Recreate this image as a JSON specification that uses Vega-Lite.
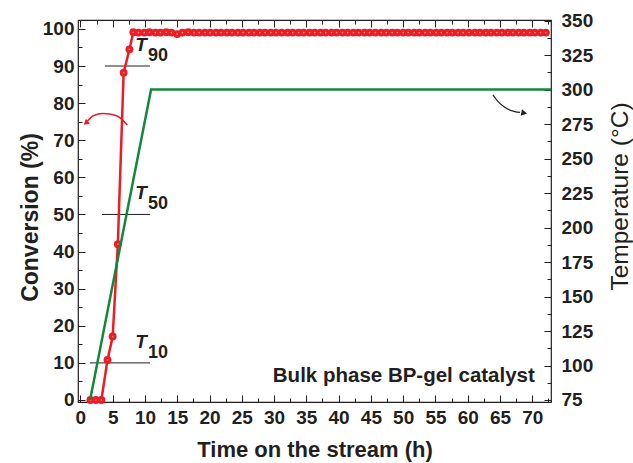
{
  "$schema": "https://vega.github.io/schema/vega-lite/v6.json",
  "width": 473,
  "height": 382,
  "autosize": "none",
  "padding": {"left": 78, "top": 20, "right": 82, "bottom": 61},
  "background": "white",
  "config": {
    "view": {"stroke": "#231f20", "strokeWidth": 1.2},
    "axis": {
      "grid": false,
      "labelFont": "Liberation Sans",
      "titleFont": "Liberation Sans",
      "labelFontWeight": "bold",
      "labelFontSize": 19,
      "labelColor": "#231f20",
      "titleColor": "#231f20",
      "domainColor": "#231f20",
      "tickColor": "#231f20",
      "tickWidth": 1,
      "domain": false
    },
    "text": {"font": "Liberation Sans", "color": "#231f20"}
  },
  "datasets": {
    "conversion": [
      {"t": 1.55, "c": 0}, {"t": 2.4, "c": 0}, {"t": 3.25, "c": 0},
      {"t": 4.2, "c": 10.8}, {"t": 5.0, "c": 17.1}, {"t": 5.8, "c": 42},
      {"t": 6.7, "c": 88.2}, {"t": 7.6, "c": 94.5},
      {"t": 8.2, "c": 99.1}, {"t": 9.0, "c": 99.0}, {"t": 9.9, "c": 99.0}, {"t": 10.7, "c": 99.1},
      {"t": 11.6, "c": 99.0}, {"t": 12.4, "c": 99.0}, {"t": 13.3, "c": 99.1}, {"t": 14.1, "c": 99.0},
      {"t": 15.0, "c": 98.6}, {"t": 15.8, "c": 99.0}, {"t": 16.7, "c": 99.1}, {"t": 17.6, "c": 99.0},
      {"t": 18.4, "c": 99.0}, {"t": 19.3, "c": 99.0}, {"t": 20.1, "c": 99.0}, {"t": 21.0, "c": 99.0},
      {"t": 21.8, "c": 99.0}, {"t": 22.7, "c": 99.0}, {"t": 23.5, "c": 99.0}, {"t": 24.4, "c": 99.0},
      {"t": 25.2, "c": 99.0}, {"t": 26.1, "c": 99.0}, {"t": 26.9, "c": 99.0}, {"t": 27.8, "c": 99.0},
      {"t": 28.6, "c": 99.0}, {"t": 29.5, "c": 99.0}, {"t": 30.3, "c": 99.0}, {"t": 31.2, "c": 99.0},
      {"t": 32.1, "c": 99.0}, {"t": 32.9, "c": 99.0}, {"t": 33.8, "c": 99.0}, {"t": 34.6, "c": 99.0},
      {"t": 35.5, "c": 99.0}, {"t": 36.3, "c": 99.0}, {"t": 37.2, "c": 99.0}, {"t": 38.0, "c": 99.0},
      {"t": 38.9, "c": 99.0}, {"t": 39.7, "c": 99.0}, {"t": 40.6, "c": 99.0}, {"t": 41.4, "c": 99.0},
      {"t": 42.3, "c": 99.0}, {"t": 43.1, "c": 99.0}, {"t": 44.0, "c": 99.0}, {"t": 44.8, "c": 99.0},
      {"t": 45.7, "c": 99.0}, {"t": 46.6, "c": 99.0}, {"t": 47.4, "c": 99.0}, {"t": 48.3, "c": 99.0},
      {"t": 49.1, "c": 99.0}, {"t": 50.0, "c": 99.0}, {"t": 50.8, "c": 99.0}, {"t": 51.7, "c": 99.0},
      {"t": 52.5, "c": 99.0}, {"t": 53.4, "c": 99.0}, {"t": 54.2, "c": 99.0}, {"t": 55.1, "c": 99.0},
      {"t": 55.9, "c": 99.0}, {"t": 56.8, "c": 99.0}, {"t": 57.6, "c": 99.0}, {"t": 58.5, "c": 99.0},
      {"t": 59.3, "c": 99.0}, {"t": 60.2, "c": 99.0}, {"t": 61.1, "c": 99.0}, {"t": 61.9, "c": 99.0},
      {"t": 62.8, "c": 99.0}, {"t": 63.6, "c": 99.0}, {"t": 64.5, "c": 99.0}, {"t": 65.3, "c": 99.0},
      {"t": 66.2, "c": 99.0}, {"t": 67.0, "c": 99.0}, {"t": 67.9, "c": 99.0}, {"t": 68.7, "c": 99.0},
      {"t": 69.6, "c": 99.0}, {"t": 70.4, "c": 99.0}, {"t": 71.3, "c": 99.0}, {"t": 72.1, "c": 99.0}
    ],
    "temperature": [
      {"t": 1.5, "temp": 75},
      {"t": 10.95, "temp": 300},
      {"t": 72.9, "temp": 300}
    ],
    "levels": [
      {"t": 10.8, "t2": 3.8, "c": 90, "sub": "90"},
      {"t": 10.8, "t2": 3.35, "c": 50, "sub": "50"},
      {"t": 10.8, "t2": 1.45, "c": 10, "sub": "10"}
    ],
    "arrows": [
      {"arrow": "left", "k": 0, "t": 7.28, "c": 74.1},
      {"arrow": "left", "k": 1, "t": 5.6, "c": 76.6},
      {"arrow": "left", "k": 2, "t": 3.5, "c": 77.2},
      {"arrow": "left", "k": 3, "t": 2.0, "c": 76.6},
      {"arrow": "left", "k": 4, "t": 1.1, "c": 75.2},
      {"arrow": "right", "k": 0, "t": 63.9, "c": 82.2},
      {"arrow": "right", "k": 1, "t": 64.7, "c": 80.4},
      {"arrow": "right", "k": 2, "t": 65.8, "c": 78.8},
      {"arrow": "right", "k": 3, "t": 67.3, "c": 77.7},
      {"arrow": "right", "k": 4, "t": 68.1, "c": 77.5}
    ],
    "heads": [
      {"arrow": "left", "t": 0.95, "c": 74.8},
      {"arrow": "right", "t": 68.6, "c": 77.4}
    ],
    "caption": [
      {"t": 70.4, "c": 4.9, "label": "Bulk phase BP-gel catalyst"}
    ]
  },
  "resolve": {
    "scale": {"y": "independent"},
    "axis": {"x": "independent", "y": "independent"}
  },
  "layer": [
    {
      "encoding": {
        "x": {
          "field": "t",
          "type": "quantitative",
          "scale": {"domain": [-0.37, 72.9], "nice": false, "zero": false},
          "axis": {
            "orient": "bottom",
            "title": "Time on the stream (h)",
            "titleFontSize": 22,
            "titleFontWeight": "bold",
            "titlePadding": 9,
            "values": [0, 2.5, 5, 7.5, 10, 12.5, 15, 17.5, 20, 22.5, 25, 27.5, 30, 32.5, 35, 37.5, 40, 42.5, 45, 47.5, 50, 52.5, 55, 57.5, 60, 62.5, 65, 67.5, 70, 72.5],
            "labelExpr": "datum.value % 5 === 0 ? datum.label : ''",
            "tickSize": {"condition": {"test": "datum.value % 5 === 0", "value": -7}, "value": -4},
            "labelPadding": 13,
            "labelFlush": false,
            "labelOverlap": false
          }
        },
        "y": {
          "field": "c",
          "type": "quantitative",
          "scale": {"domain": [-0.54, 102.4], "nice": false, "zero": false},
          "axis": {
            "orient": "left",
            "title": "Conversion (%)",
            "titleFontSize": 23,
            "titleFontWeight": "bold",
            "titlePadding": 0,
            "titleY": 197,
            "values": [0, 5, 10, 15, 20, 25, 30, 35, 40, 45, 50, 55, 60, 65, 70, 75, 80, 85, 90, 95, 100],
            "labelExpr": "datum.value % 10 === 0 ? datum.label : ''",
            "tickSize": {"condition": {"test": "datum.value % 10 === 0", "value": -7}, "value": -4},
            "labelPadding": 11,
            "labelFlush": false,
            "labelOverlap": false
          }
        }
      },
      "layer": [
        {
          "data": {"name": "levels"},
          "mark": {"type": "rule", "color": "#231f20", "strokeWidth": 1},
          "encoding": {"x2": {"field": "t2"}}
        },
        {
          "data": {"name": "conversion"},
          "mark": {"type": "line", "color": "#ed1c24", "strokeWidth": 2.5}
        },
        {
          "data": {"name": "conversion"},
          "mark": {"type": "point", "shape": "circle", "filled": true, "color": "#ed1c24", "size": 62, "opacity": 1}
        },
        {
          "data": {"name": "conversion"},
          "mark": {"type": "point", "shape": "circle", "filled": true, "color": "#f79494", "size": 3, "opacity": 1}
        },
        {
          "data": {"name": "levels"},
          "mark": {"type": "text", "text": "T", "fontSize": 19, "fontStyle": "italic", "fontWeight": "bold", "align": "center", "baseline": "middle", "dx": -9, "dy": -21}
        },
        {
          "data": {"name": "levels"},
          "mark": {"type": "text", "fontSize": 18, "fontWeight": "bold", "align": "center", "baseline": "middle", "dx": 8, "dy": -10},
          "encoding": {"text": {"field": "sub"}}
        },
        {
          "data": {"name": "arrows"},
          "transform": [{"filter": "datum.arrow === 'left'"}],
          "mark": {"type": "line", "color": "#ed1c24", "strokeWidth": 1.5, "interpolate": "monotone"},
          "encoding": {"order": {"field": "k"}}
        },
        {
          "data": {"name": "arrows"},
          "transform": [{"filter": "datum.arrow === 'right'"}],
          "mark": {"type": "line", "color": "#231f20", "strokeWidth": 1.2, "interpolate": "monotone"},
          "encoding": {"order": {"field": "k"}}
        },
        {
          "data": {"name": "heads"},
          "transform": [{"filter": "datum.arrow === 'left'"}],
          "mark": {"type": "point", "shape": "triangle", "filled": true, "color": "#ed1c24", "size": 40, "angle": 230, "opacity": 1}
        },
        {
          "data": {"name": "heads"},
          "transform": [{"filter": "datum.arrow === 'right'"}],
          "mark": {"type": "point", "shape": "triangle", "filled": true, "color": "#231f20", "size": 45, "angle": 100, "opacity": 1}
        },
        {
          "data": {"name": "caption"},
          "mark": {"type": "text", "fontSize": 20.5, "fontWeight": "bold", "align": "right", "baseline": "alphabetic"},
          "encoding": {"text": {"field": "label"}}
        }
      ]
    },
    {
      "data": {"name": "temperature"},
      "mark": {"type": "line", "color": "#14873d", "strokeWidth": 2.5},
      "encoding": {
        "x": {
          "field": "t",
          "type": "quantitative",
          "scale": {"domain": [-0.37, 72.9], "nice": false, "zero": false},
          "axis": {
            "orient": "top",
            "title": null,
            "labels": false,
            "values": [0, 2.5, 5, 7.5, 10, 12.5, 15, 17.5, 20, 22.5, 25, 27.5, 30, 32.5, 35, 37.5, 40, 42.5, 45, 47.5, 50, 52.5, 55, 57.5, 60, 62.5, 65, 67.5, 70, 72.5],
            "tickSize": {"condition": {"test": "datum.value % 5 === 0", "value": -7}, "value": -4}
          }
        },
        "y": {
          "field": "temp",
          "type": "quantitative",
          "scale": {"domain": [73.55, 350.4], "nice": false, "zero": false},
          "axis": {
            "orient": "right",
            "title": "Temperature (°C)",
            "titleFontSize": 24.5,
            "titleFontWeight": "normal",
            "titleAngle": 270,
            "titleBaseline": "top",
            "titlePadding": 16,
            "titleY": 176,
            "values": [75, 87.5, 100, 112.5, 125, 137.5, 150, 162.5, 175, 187.5, 200, 212.5, 225, 237.5, 250, 262.5, 275, 287.5, 300, 312.5, 325, 337.5, 350],
            "labelExpr": "(datum.value - 75) % 25 === 0 ? datum.label : ''",
            "tickSize": {"condition": {"test": "(datum.value - 75) % 25 === 0", "value": -7}, "value": -4},
            "labelPadding": 17,
            "labelFlush": false,
            "labelOverlap": false
          }
        }
      }
    }
  ]
}
